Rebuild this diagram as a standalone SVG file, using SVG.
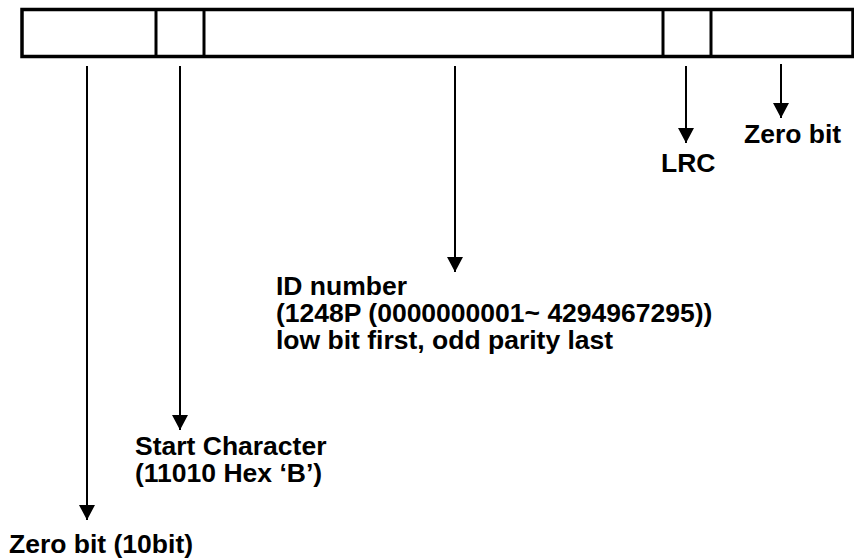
<svg xmlns="http://www.w3.org/2000/svg" width="854" height="560" viewBox="0 0 854 560">
<defs>
<style>
.frame{fill:#fff;stroke:#000;stroke-width:3.5}
.div{stroke:#000;stroke-width:3}
.conn{stroke:#000;stroke-width:2;fill:none}
.lbl{font-family:"Liberation Sans",Arial,sans-serif;font-weight:bold;font-size:26.5px;fill:#000}
</style>
<marker id="ah" markerUnits="userSpaceOnUse" markerWidth="16" markerHeight="16" viewBox="0 0 16 16" refX="15" refY="8" orient="auto">
<path d="M0,0 L15,8 L0,16 Z" fill="#000"/>
</marker>
</defs>
<rect width="854" height="560" fill="#fff"/>
<g id="frame">
<rect class="frame" x="22" y="9.5" width="831" height="47"/>
<line class="div" x1="156" y1="9.5" x2="156" y2="56.5"/>
<line class="div" x1="204" y1="9.5" x2="204" y2="56.5"/>
<line class="div" x1="663" y1="9.5" x2="663" y2="56.5"/>
<line class="div" x1="711" y1="9.5" x2="711" y2="56.5"/>
</g>
<g id="connectors">
<line class="conn" x1="87" y1="66" x2="87" y2="520" marker-end="url(#ah)"/>
<line class="conn" x1="180" y1="66" x2="180" y2="430" marker-end="url(#ah)"/>
<line class="conn" x1="455" y1="66" x2="455" y2="272" marker-end="url(#ah)"/>
<line class="conn" x1="686" y1="66" x2="686" y2="143" marker-end="url(#ah)"/>
<line class="conn" x1="781" y1="64" x2="781" y2="118" marker-end="url(#ah)"/>
</g>
<g id="label-zero-10bit">
<text class="lbl" x="9" y="553">Zero bit (10bit)</text>
</g>
<g id="label-start">
<text class="lbl" x="135" y="455">Start Character</text>
<text class="lbl" x="135" y="482">(11010 Hex ‘B’)</text>
</g>
<g id="label-id">
<text class="lbl" x="276" y="295">ID number</text>
<text class="lbl" x="276" y="322">(1248P (0000000001~ 4294967295))</text>
<text class="lbl" x="276" y="349">low bit first, odd parity last</text>
</g>
<g id="label-lrc">
<text class="lbl" x="661" y="172">LRC</text>
</g>
<g id="label-zero">
<text class="lbl" x="744" y="143">Zero bit</text>
</g>
</svg>
